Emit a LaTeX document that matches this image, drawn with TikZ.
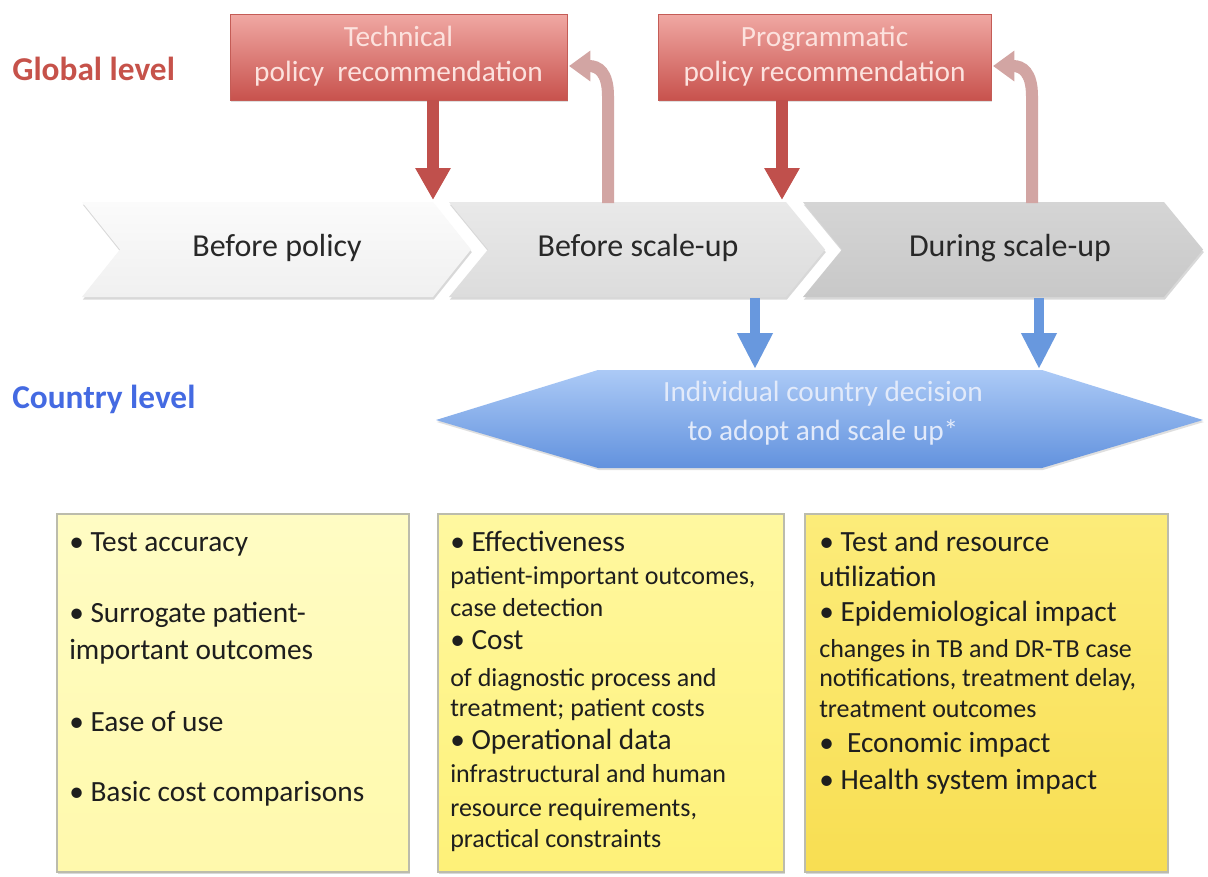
\documentclass[tikz,border=0pt]{standalone}
\usepackage{fontspec}
\setmainfont{Carlito}
\usetikzlibrary{arrows.meta,shadows,calc}
\definecolor{gl}{RGB}{198,82,74}
\definecolor{cl}{RGB}{68,106,226}
\definecolor{redarr}{RGB}{192,80,76}
\definecolor{pinkarr}{RGB}{210,165,163}
\definecolor{bluearr}{RGB}{104,152,222}
\definecolor{txt}{RGB}{30,30,30}
\definecolor{redtxt}{RGB}{252,226,222}
\definecolor{hextxt}{RGB}{226,234,250}
\begin{document}
\begin{tikzpicture}[x=0.75pt,y=-0.75pt,
  ln/.style={inner sep=0pt, text height=0.7em, text depth=0.2em, text=txt},
  big/.style={font=\fontsize{22}{26}\selectfont},
  small/.style={font=\fontsize{19.5}{23}\selectfont},
  lvl/.style={inner sep=0pt, anchor=west, text height=0.7em, text depth=0.2em, font=\fontsize{25}{30}\selectfont\bfseries},
  chevtxt/.style={inner sep=0pt, text height=0.7em, text depth=0.2em, text={rgb,255:red,40;green,40;blue,40}, font=\fontsize{24}{28}\selectfont},
  redbox/.style={draw={rgb,255:red,196;green,92;blue,86}, line width=0.6pt, top color={rgb,255:red,240;green,168;blue,163}, bottom color={rgb,255:red,200;green,82;blue,77}, drop shadow={shadow xshift=0.8pt, shadow yshift=-1.5pt, opacity=0.25}},
  redtext/.style={inner sep=0pt, text height=0.7em, text depth=0.2em, text=redtxt, font=\fontsize{22}{26}\selectfont},
  hextext/.style={inner sep=0pt, text height=0.7em, text depth=0.2em, text=hextxt, font=\fontsize{22}{26}\selectfont},
  ybox/.style={draw={rgb,255:red,188;green,188;blue,172}, line width=0.8pt, drop shadow={shadow xshift=0.8pt, shadow yshift=-1.5pt, opacity=0.3}},
  chev/.style={drop shadow={shadow xshift=0.6pt, shadow yshift=-2pt, opacity=0.3}},
  fatred/.style={draw=redarr, line width=9pt, -{Triangle[width=25pt,length=24pt]}},
  fatpink/.style={draw=pinkarr, line width=9pt, -{Triangle[width=22pt,length=16pt]}},
  fatblue/.style={draw=bluearr, line width=8pt, -{Triangle[width=25pt,length=27pt]}}
]
\useasboundingbox (0,0) rectangle (1208,876);
\fill[white] (0,0) rectangle (1208,876);

% level labels
\node[lvl, text=gl] (global) at (12,77) {Global level};
\node[lvl, text=cl] (country) at (12,405) {Country level};

% chevrons
\path[chev, top color={rgb,255:red,251;green,251;blue,251}, bottom color={rgb,255:red,240;green,240;blue,240}]
  (82,202) -- (433,202) -- (471,249.5) -- (433,297) -- (82,297) -- (120,249.5) -- cycle;
\path[chev, top color={rgb,255:red,233;green,233;blue,233}, bottom color={rgb,255:red,220;green,220;blue,220}]
  (449,202) -- (786,202) -- (825,249.5) -- (786,297) -- (449,297) -- (488,249.5) -- cycle;
\path[chev, top color={rgb,255:red,213;green,213;blue,213}, bottom color={rgb,255:red,200;green,200;blue,200}]
  (803,202) -- (1164,202) -- (1203,249.5) -- (1164,297) -- (803,297) -- (842,249.5) -- cycle;
\node[chevtxt] (c1) at (277,253) {Before policy};
\node[chevtxt] (c2) at (638,253) {Before scale-up};
\node[chevtxt] (c3) at (1010,253) {During scale-up};

% red boxes
\node[redbox, minimum width=252.75pt, minimum height=64.5pt, inner sep=0pt] (tech) at (398.5,57) {};
\node[redtext] (tech1) at (398.5,43) {Technical};
\node[redtext] (tech2) at (398.5,78) {policy\ \ recommendation};
\node[redbox, minimum width=249.75pt, minimum height=64.5pt, inner sep=0pt] (prog) at (824.5,57) {};
\node[redtext] (prog1) at (824.5,43) {Programmatic};
\node[redtext] (prog2) at (824.5,78) {policy recommendation};

% hexagon
\path[drop shadow={shadow xshift=0.6pt, shadow yshift=-1.5pt, opacity=0.25}, top color={rgb,255:red,172;green,202;blue,246}, bottom color={rgb,255:red,98;green,146;blue,222}]
  (436,420) -- (598,370) -- (1042,370) -- (1203,420) -- (1042,468) -- (598,468) -- cycle;
\node[hextext] (hex1) at (823,398) {Individual country decision};
\node[hextext] (hex2) at (823,437) {to adopt and scale up*};

% coordinates for connectors
\coordinate (r1e) at (433,200);
\coordinate (r2e) at (782,200);
\coordinate (p1s) at (608,203);
\coordinate (p1e) at (569,66);
\coordinate (p2s) at (1032,203);
\coordinate (p2e) at (993,66);
\coordinate (b1s) at (755,298);
\coordinate (b1e) at (755,369);
\coordinate (b2s) at (1039,298);
\coordinate (b2e) at (1039,369);

% arrows
\draw[fatred] (tech.south -| r1e) -- (r1e);
\draw[fatred] (prog.south -| r2e) -- (r2e);
\draw[fatpink] (p1s) -- (608,96) .. controls (608,72) and (598,66) .. (p1e);
\draw[fatpink] (p2s) -- (1032,96) .. controls (1032,72) and (1022,66) .. (p2e);
\draw[fatblue] (b1s) -- (b1e);
\draw[fatblue] (b2s) -- (b2e);

% yellow boxes
\node[ybox, minimum width=264pt, minimum height=268.5pt, inner sep=0pt,
  top color={rgb,255:red,255;green,252;blue,196}, bottom color={rgb,255:red,255;green,249;blue,172}] (box1) at (233,693) {};
\node[ybox, minimum width=259.5pt, minimum height=268.5pt, inner sep=0pt,
  top color={rgb,255:red,255;green,248;blue,160}, bottom color={rgb,255:red,254;green,241;blue,120}] (box2) at (611,693) {};
\node[ybox, minimum width=272.25pt, minimum height=268.5pt, inner sep=0pt,
  top color={rgb,255:red,252;green,236;blue,122}, bottom color={rgb,255:red,248;green,222;blue,82}] (box3) at (986.5,693) {};

% box 1 text
\node[ln, big, anchor=west] (a1) at (69,548) {• Test accuracy};
\node[ln, big, anchor=west] (a2) at (69,619) {• Surrogate patient-};
\node[ln, big, anchor=west] (a3) at (69,656) {important outcomes};
\node[ln, big, anchor=west] (a4) at (69,728) {• Ease of use};
\node[ln, big, anchor=west] (a5) at (69,798) {• Basic cost comparisons};

% box 2 text
\node[ln, big, anchor=west] (b1) at (450,548) {• Effectiveness};
\node[ln, small, anchor=west] (b2) at (450,581) {patient-important outcomes,};
\node[ln, small, anchor=west] (b3) at (450,613) {case detection};
\node[ln, big, anchor=west] (b4) at (450,646) {• Cost};
\node[ln, small, anchor=west] (b5) at (450,683) {of diagnostic process and};
\node[ln, small, anchor=west] (b6) at (450,713) {treatment; patient costs};
\node[ln, big, anchor=west] (b7) at (450,746) {• Operational data};
\node[ln, small, anchor=west] (b8) at (450,779) {infrastructural and human};
\node[ln, small, anchor=west] (b9) at (450,813) {resource requirements,};
\node[ln, small, anchor=west] (b10) at (450,844) {practical constraints};

% box 3 text
\node[ln, big, anchor=west] (d1) at (819,548) {• Test and resource};
\node[ln, big, anchor=west] (d2) at (819,583) {utilization};
\node[ln, big, anchor=west] (d3) at (819,618) {• Epidemiological impact};
\node[ln, small, anchor=west] (d4) at (819,654) {changes in TB and DR-TB case};
\node[ln, small, anchor=west] (d5) at (819,683) {notifications, treatment delay,};
\node[ln, small, anchor=west] (d6) at (819,714) {treatment outcomes};
\node[ln, big, anchor=west] (d7) at (819,749) {•\ \ Economic impact};
\node[ln, big, anchor=west] (d8) at (819,786) {• Health system impact};
\end{tikzpicture}
\end{document}
